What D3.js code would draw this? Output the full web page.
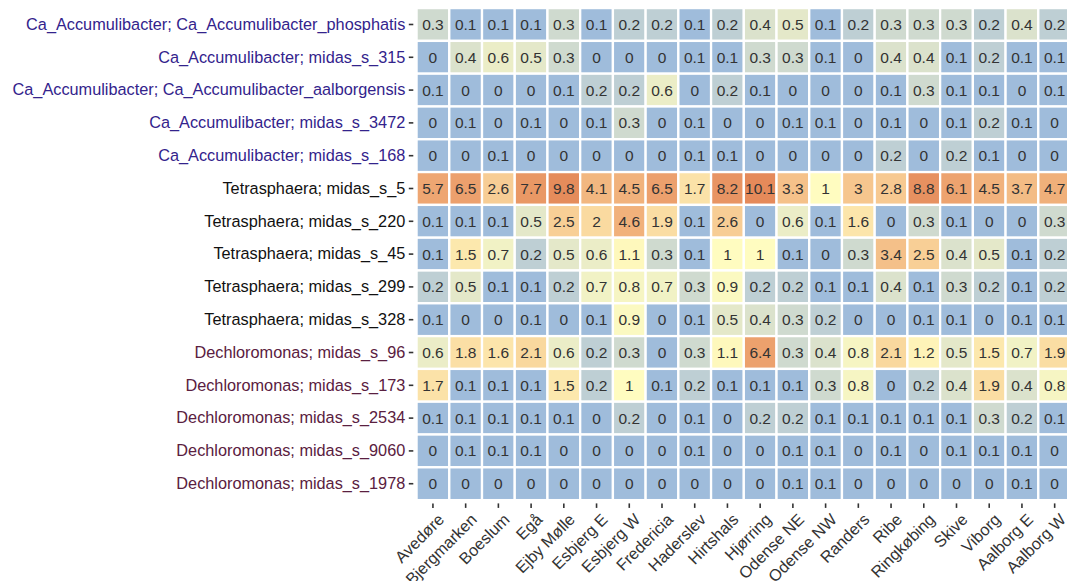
<!DOCTYPE html>
<html><head><meta charset="utf-8">
<script src="https://cdn.jsdelivr.net/npm/d3@7"></script>
<style>body{margin:0;background:#fff;} svg{display:block;font-family:"Liberation Sans",Arial,sans-serif;}</style>
</head><body><svg id="chart" width="1067" height="581"></svg>
<script>
const samples = ["Avedøre","Bjergmarken","Boeslum","Egå","Ejby Mølle","Esbjerg E","Esbjerg W","Fredericia","Haderslev","Hirtshals","Hjørring","Odense NE","Odense NW","Randers","Ribe","Ringkøbing","Skive","Viborg","Aalborg E","Aalborg W"];
const taxa = ["Ca_Accumulibacter; Ca_Accumulibacter_phosphatis","Ca_Accumulibacter; midas_s_315","Ca_Accumulibacter; Ca_Accumulibacter_aalborgensis","Ca_Accumulibacter; midas_s_3472","Ca_Accumulibacter; midas_s_168","Tetrasphaera; midas_s_5","Tetrasphaera; midas_s_220","Tetrasphaera; midas_s_45","Tetrasphaera; midas_s_299","Tetrasphaera; midas_s_328","Dechloromonas; midas_s_96","Dechloromonas; midas_s_173","Dechloromonas; midas_s_2534","Dechloromonas; midas_s_9060","Dechloromonas; midas_s_1978"];
const abundance = [
 [0.3,0.1,0.1,0.1,0.3,0.1,0.2,0.2,0.1,0.2,0.4,0.5,0.1,0.2,0.3,0.3,0.3,0.2,0.4,0.2],
 [0,0.4,0.6,0.5,0.3,0,0,0,0.1,0.1,0.3,0.3,0.1,0,0.4,0.4,0.1,0.2,0.1,0.1],
 [0.1,0,0,0,0.1,0.2,0.2,0.6,0,0.2,0.1,0,0,0,0.1,0.3,0.1,0.1,0,0.1],
 [0,0.1,0,0.1,0,0.1,0.3,0,0.1,0,0,0.1,0.1,0,0.1,0,0.1,0.2,0.1,0],
 [0,0,0.1,0,0,0,0,0,0.1,0.1,0,0,0,0,0.2,0,0.2,0.1,0,0],
 [5.7,6.5,2.6,7.7,9.8,4.1,4.5,6.5,1.7,8.2,10.1,3.3,1,3,2.8,8.8,6.1,4.5,3.7,4.7],
 [0.1,0.1,0.1,0.5,2.5,2,4.6,1.9,0.1,2.6,0,0.6,0.1,1.6,0,0.3,0.1,0,0,0.3],
 [0.1,1.5,0.7,0.2,0.5,0.6,1.1,0.3,0.1,1,1,0.1,0,0.3,3.4,2.5,0.4,0.5,0.1,0.2],
 [0.2,0.5,0.1,0.1,0.2,0.7,0.8,0.7,0.3,0.9,0.2,0.2,0.1,0.1,0.4,0.1,0.3,0.2,0.1,0.2],
 [0.1,0,0,0.1,0,0.1,0.9,0,0.1,0.5,0.4,0.3,0.2,0,0,0.1,0.1,0,0.1,0.1],
 [0.6,1.8,1.6,2.1,0.6,0.2,0.3,0,0.3,1.1,6.4,0.3,0.4,0.8,2.1,1.2,0.5,1.5,0.7,1.9],
 [1.7,0.1,0.1,0.1,1.5,0.2,1,0.1,0.2,0.1,0.1,0.1,0.3,0.8,0,0.2,0.4,1.9,0.4,0.8],
 [0.1,0.1,0.1,0.1,0.1,0,0.2,0,0.1,0,0.2,0.2,0.1,0.1,0.1,0.1,0.1,0.3,0.2,0.1],
 [0,0.1,0.1,0.1,0,0,0,0,0.1,0,0,0.1,0.1,0,0.1,0,0.1,0.1,0.1,0],
 [0,0,0,0,0,0,0,0,0,0,0,0.1,0.1,0,0,0,0,0,0.1,0]
];
const genusColors = {"Ca_Accumulibacter":"#33238c","Tetrasphaera":"#111111","Dechloromonas":"#5a2040"};
const paletteColors = ["#9fbcdb","#fffcc0","#e58a5a"];

const svg = d3.select("#chart");
const x = d3.scaleBand().domain(samples).range([413.3, 1074.3]).paddingInner(0).paddingOuter(0.1);
const y = d3.scaleBand().domain(taxa).range([4.8, 503.4]).paddingInner(0).paddingOuter(0.1);

const minAb = 0.1;
const maxLog = Math.log10(d3.max(abundance.flat()));
const color = d3.scaleLinear().domain([-1, (maxLog - 1) / 2, maxLog]).range(paletteColors).interpolate(d3.interpolateLab).clamp(true);

const cells = [];
taxa.forEach((t, i) => samples.forEach((s, j) => cells.push({t, s, v: abundance[i][j]})));

const g = svg.append("g");
g.selectAll("rect").data(cells).join("rect")
  .attr("x", d => x(d.s)).attr("y", d => y(d.t))
  .attr("width", x.bandwidth()).attr("height", y.bandwidth())
  .attr("fill", d => color(Math.log10(Math.max(d.v, minAb))))
  .attr("stroke", "#fff").attr("stroke-width", 2.3);

g.selectAll("text.val").data(cells).join("text").attr("class","val")
  .attr("x", d => x(d.s) + x.bandwidth()/2).attr("y", d => y(d.t) + y.bandwidth()/2)
  .attr("text-anchor","middle").attr("dy","0.36em")
  .attr("font-size", 15.5).attr("fill", "#333")
  .text(d => d3.format("~g")(d.v));

// y axis
const ya = svg.append("g").attr("transform","translate(413.3,0)")
  .call(d3.axisLeft(y).tickSize(4.5).tickPadding(3.5));
ya.select(".domain").remove();
ya.selectAll(".tick line").attr("stroke","#333").attr("stroke-width",1.6);
ya.selectAll(".tick text").attr("font-size",16.3).attr("font-family","Liberation Sans, Arial, sans-serif")
  .attr("fill", d => genusColors[d.split(";")[0]]);

// x axis
const xa = svg.append("g").attr("transform","translate(0,503.4)")
  .call(d3.axisBottom(x).tickSize(4.5).tickPadding(2));
xa.select(".domain").remove();
xa.selectAll(".tick line").attr("stroke","#333").attr("stroke-width",1.6);
xa.selectAll(".tick text").attr("font-size",16.3).attr("font-family","Liberation Sans, Arial, sans-serif")
  .attr("fill","#333")
  .attr("text-anchor","end").attr("dy",null).attr("y",null)
  .attr("transform","translate(4,9) rotate(-45)").attr("dy","0.71em");
</script></body></html>
